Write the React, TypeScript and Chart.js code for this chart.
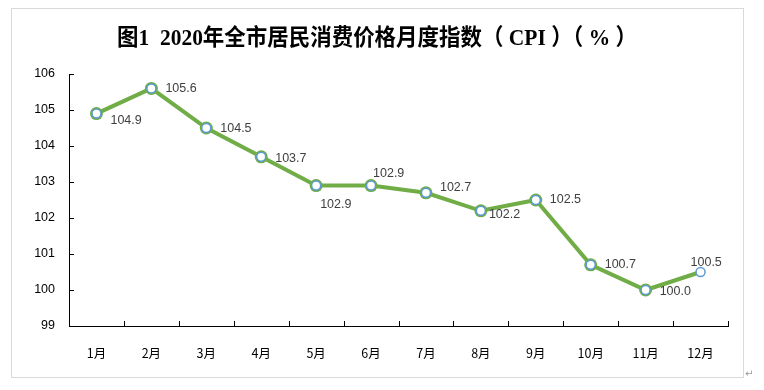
import React, { useEffect, useRef } from "react";
import { Chart, registerables } from "chart.js";

Chart.register(...registerables);

const months = ["1月", "2月", "3月", "4月", "5月", "6月", "7月", "8月", "9月", "10月", "11月", "12月"];
const cpi = [104.9, 105.6, 104.5, 103.7, 102.9, 102.9, 102.7, 102.2, 102.5, 100.7, 100.0, 100.5];
const titleText = "图1  2020年全市居民消费价格月度指数（ CPI ）（ % ）";
const yMin = 99;
const yMax = 106;

// label placement offsets (style only)
const labelDx = [14, 14, 14, 14, 4, 2, 14, 8, 14, 14, 14, -10];
const labelDy = [7, 0, 1, 2, 19, -12, -5, 4, 0, 0, 2, -9];

const framePlugin = {
  id: "framePlugin",
  beforeDraw(chart: any) {
    const ctx = chart.ctx;
    ctx.save();
    ctx.fillStyle = "#ffffff";
    ctx.fillRect(0, 0, chart.width, chart.height);
    ctx.strokeStyle = "#d9d9d9";
    ctx.lineWidth = 1;
    ctx.strokeRect(11.5, 8.5, 732, 369);
    ctx.fillStyle = "#9a9a9a";
    ctx.font = "10px 'DejaVu Sans'";
    ctx.textAlign = "left";
    ctx.textBaseline = "middle";
    ctx.fillText("↵", 745, 374);
    // title
    ctx.fillStyle = "#000000";
    ctx.font = "bold 23px 'Liberation Serif', 'Noto Sans CJK SC', serif";
    ctx.textAlign = "center";
    const w = ctx.measureText(titleText).width;
    const sx = 520 / w;
    ctx.translate(377, 39);
    ctx.scale(sx, 1);
    ctx.fillText(titleText, 0, 0);
    ctx.restore();
  },
  afterDraw(chart: any) {
    const ctx = chart.ctx;
    const xs = chart.scales.x;
    const ys = chart.scales.y;
    const area = chart.chartArea;
    ctx.save();
    ctx.strokeStyle = "#000000";
    ctx.lineWidth = 1;
    ctx.beginPath();
    for (let v = yMin; v <= yMax; v++) {
      const y = Math.round(ys.getPixelForValue(v)) + 0.5;
      ctx.moveTo(area.left, y);
      ctx.lineTo(area.left + 5, y);
    }
    const step = (area.right - area.left) / months.length;
    for (let i = 1; i <= months.length; i++) {
      const x = Math.round(area.left + step * i) + 0.5;
      ctx.moveTo(x, area.bottom);
      ctx.lineTo(x, area.bottom - 5);
    }
    ctx.stroke();
    // data labels
    ctx.fillStyle = "#404040";
    ctx.font = "12.5px 'Liberation Sans', 'DejaVu Sans', sans-serif";
    ctx.textAlign = "left";
    ctx.textBaseline = "middle";
    cpi.forEach((v, i) => {
      const x = xs.getPixelForValue(i);
      const y = ys.getPixelForValue(v);
      ctx.fillText(v.toFixed(1), x + labelDx[i], y + labelDy[i]);
    });
    ctx.restore();
  },
};

export default function App() {
  const ref = useRef<HTMLCanvasElement | null>(null);
  useEffect(() => {
    if (!ref.current) return;
    const chart = new Chart(ref.current, {
      type: "line",
      data: {
        labels: months,
        datasets: [
          {
            data: cpi,
            borderColor: "#70AD47",
            borderWidth: 4,
            pointRadius: cpi.map((_, i) => (i === cpi.length - 1 ? 0 : 6.5)),
            pointBackgroundColor: "#70AD47",
            pointBorderWidth: 0,
            tension: 0,
            order: 2,
          },
          {
            data: cpi,
            showLine: false,
            pointRadius: 4.5,
            pointBackgroundColor: "#ffffff",
            pointBorderColor: "#5B9BD5",
            pointBorderWidth: 1.5,
            order: 1,
          },
        ],
      },
      options: {
        animation: false,
        responsive: false,
        maintainAspectRatio: false,
        layout: { padding: { top: 74, right: 36, left: 0, bottom: 0 } },
        plugins: {
          legend: { display: false },
          title: { display: false },
          tooltip: { enabled: false },
        },
        scales: {
          x: {
            offset: true,
            grid: { display: false, drawTicks: false },
            border: { color: "#000000", width: 1 },
            ticks: {
              color: "#000000",
              padding: 20,
              font: { size: 12.5, family: "'Noto Sans CJK SC', 'Liberation Sans', sans-serif" },
            },
            afterFit(scale: any) {
              scale.height = 64;
            },
          },
          y: {
            min: yMin,
            max: yMax,
            grid: { display: false, drawTicks: false },
            border: { color: "#000000", width: 1 },
            ticks: {
              stepSize: 1,
              color: "#000000",
              padding: 14,
              font: { size: 12.5, family: "'Liberation Sans', 'DejaVu Sans', sans-serif" },
            },
            afterFit(scale: any) {
              scale.width = 69;
            },
          },
        },
      },
      plugins: [framePlugin],
    });
    return () => chart.destroy();
  }, []);
  return (
    <div style={{ position: "fixed", left: 0, top: 0, width: 764, height: 390, background: "#fff" }}>
      <canvas ref={ref} width={764} height={390} style={{ width: 764, height: 390, display: "block" }} />
    </div>
  );
}
